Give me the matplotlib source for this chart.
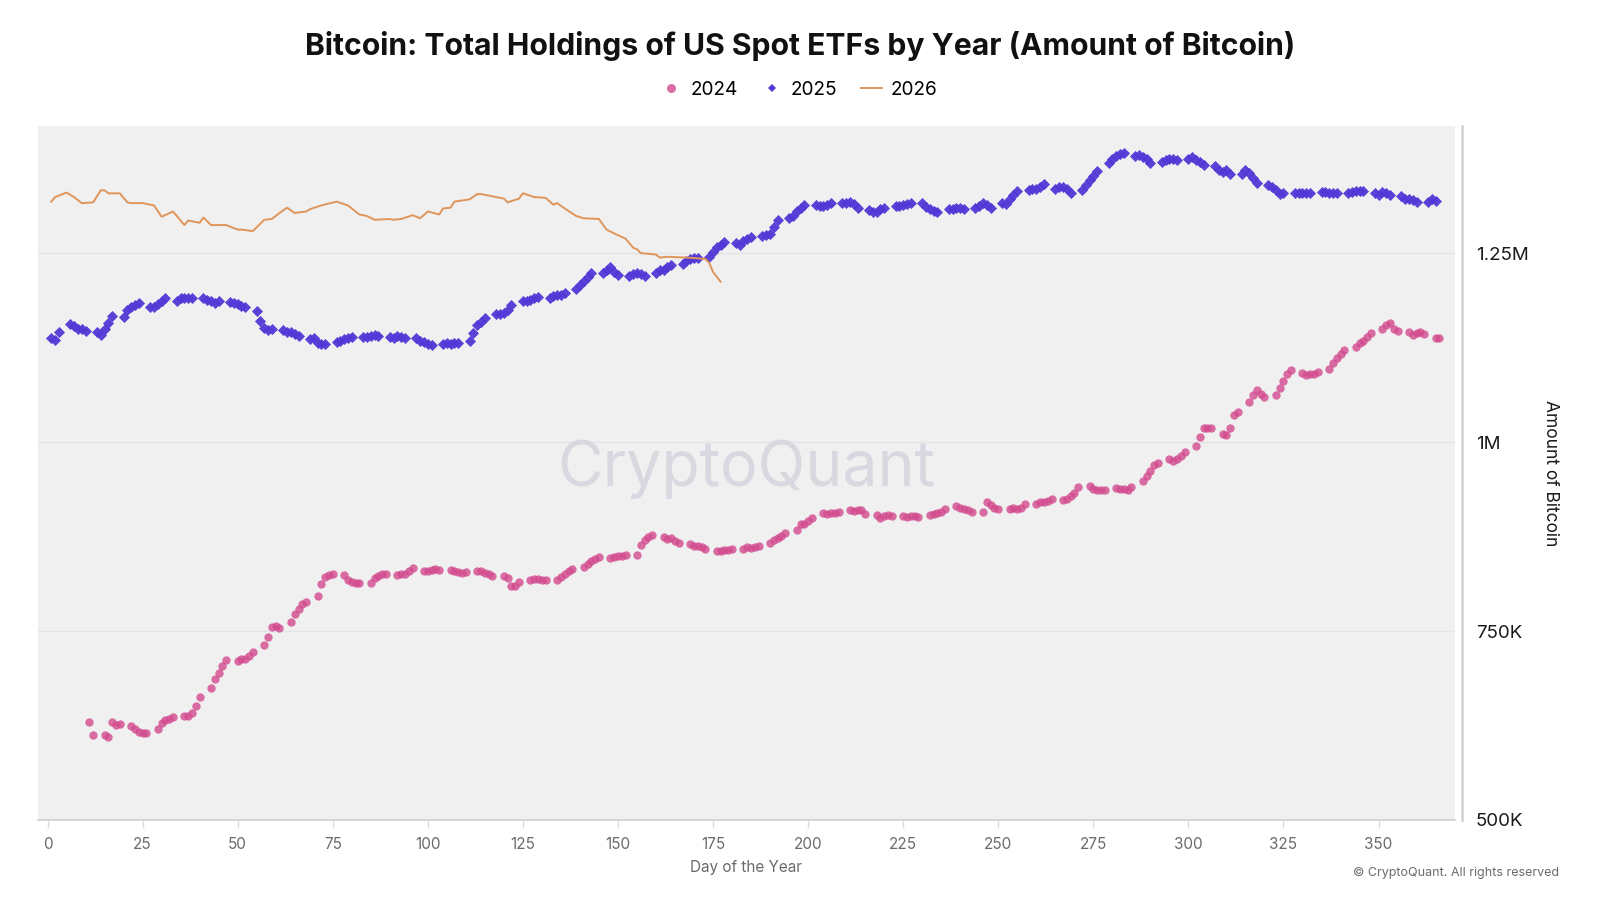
import matplotlib
matplotlib.use("Agg")
import matplotlib.pyplot as plt
from matplotlib.lines import Line2D

# ---------------- data (values in thousands of BTC) ----------------
days_2024 = [11, 12, 15, 16, 17, 18, 19,
             22, 23, 24, 25, 26, 29, 30, 31, 32, 33, 36, 37, 38, 39, 40,
             43, 44, 45, 46, 47, 50, 51, 52, 53, 54, 57, 58, 59, 60, 61,
             64, 65, 66, 67, 68, 71, 72, 73, 74, 75, 78, 79, 80, 81, 82,
             85, 86, 87, 88, 89, 92, 93, 94, 95, 96, 99, 100, 101, 102, 103,
             106, 107, 108, 109, 110, 113, 114, 115, 116, 117, 120, 121, 122, 123, 124,
             127, 128, 129, 130, 131, 134, 135, 136, 137, 138, 141, 142, 143, 144, 145,
             148, 149, 150, 151, 152, 155, 156, 157, 158, 159, 162, 163, 164, 165, 166,
             169, 170, 171, 172, 173, 176, 177, 178, 179, 180, 183, 184, 185, 186, 187,
             190, 191, 192, 193, 194, 197, 198, 199, 200, 201, 204, 205, 206, 207, 208,
             211, 212, 213, 214, 215, 218, 219, 220, 221, 222, 225, 226, 227, 228, 229,
             232, 233, 234, 235, 236, 239, 240, 241, 242, 243, 246, 247, 248, 249, 250,
             253, 254, 255, 256, 257, 260, 261, 262, 263, 264, 267, 268, 269, 270, 271,
             274, 275, 276, 277, 278, 281, 282, 283, 284, 285, 288, 289, 290, 291, 292,
             295, 296, 297, 298, 299, 302, 303, 304, 305, 306, 309, 310, 311, 312, 313,
             316, 317, 318, 319, 320, 323, 324, 325, 326, 327, 330, 331, 332, 333, 334,
             337, 338, 339, 340, 341, 344, 345, 346, 347, 348, 351, 352, 353, 354, 355,
             358, 359, 360, 361, 362, 365, 366]
holdings_2024 = [630, 613, 613, 610, 629, 626, 627,
                 624, 620, 617, 615, 615, 621, 628, 632, 634, 636, 637, 638, 641, 651, 663,
                 674, 687, 694, 704, 711, 710, 713, 713, 717, 722, 732, 742, 755, 756, 754,
                 762, 773, 779, 786, 789, 796, 812, 822, 824, 826, 824, 818, 815, 813, 813,
                 813, 820, 823, 825, 825, 824, 825, 826, 829, 833, 830, 829, 831, 832, 831,
                 831, 829, 828, 827, 828, 829, 830, 827, 825, 823, 823, 820, 810, 810, 815,
                 818, 819, 819, 818, 817, 818, 822, 826, 830, 832, 835, 839, 842, 845, 848,
                 847, 848, 849, 849, 850, 851, 864, 870, 874, 877, 875, 872, 873, 869, 866,
                 865, 863, 862, 861, 858, 856, 856, 857, 857, 858, 859, 861, 860, 861, 862,
                 867, 870, 873, 876, 880, 884, 891, 892, 895, 900, 906, 905, 906, 906, 908,
                 910, 909, 910, 910, 905, 903, 900, 902, 903, 902, 902, 901, 902, 902, 901,
                 904, 905, 906, 908, 912, 915, 913, 912, 910, 907, 908, 920, 917, 913, 911,
                 912, 913, 912, 913, 918, 918, 920, 920, 922, 924, 923, 925, 928, 933, 941,
                 942, 938, 937, 936, 936, 939, 938, 938, 936, 941, 949, 955, 962, 969, 972,
                 977, 975, 978, 981, 987, 995, 1007, 1019, 1019, 1019, 1011, 1009, 1018, 1036, 1040,
                 1053, 1062, 1069, 1064, 1059, 1062, 1071, 1081, 1090, 1095, 1091, 1089, 1090, 1090, 1093,
                 1097, 1104, 1111, 1117, 1122, 1126, 1131, 1133, 1139, 1144, 1149, 1155, 1158, 1150, 1147,
                 1145, 1142, 1144, 1146, 1143, 1138, 1138]

days_2025 = [1, 2, 3, 6, 7, 8, 9, 10, 13, 14, 15, 16, 17, 20, 21, 22, 23, 24,
             27, 28, 29, 30, 31, 34, 35, 36, 37, 38, 41, 42, 43, 44, 45,
             48, 49, 50, 51, 52, 55, 56, 57, 58, 59, 62, 63, 64, 65, 66,
             69, 70, 71, 72, 73, 76, 77, 78, 79, 80, 83, 84, 85, 86, 87,
             90, 91, 92, 93, 94, 97, 98, 99, 100, 101, 104, 105, 106, 107, 108,
             111, 112, 113, 114, 115, 118, 119, 120, 121, 122, 125, 126, 127, 128, 129,
             132, 133, 134, 135, 136, 139, 140, 141, 142, 143, 146, 147, 148, 149, 150,
             153, 154, 155, 156, 157, 160, 161, 162, 163, 164, 167, 168, 169, 170, 171,
             174, 175, 176, 177, 178, 181, 182, 183, 184, 185, 188, 189, 190, 191, 192,
             195, 196, 197, 198, 199, 202, 203, 204, 205, 206, 209, 210, 211, 212, 213,
             216, 217, 218, 219, 220, 223, 224, 225, 226, 227, 230, 231, 232, 233, 234,
             237, 238, 239, 240, 241, 244, 245, 246, 247, 248, 251, 252, 253, 254, 255,
             258, 259, 260, 261, 262, 265, 266, 267, 268, 269, 272, 273, 274, 275, 276,
             279, 280, 281, 282, 283, 286, 287, 288, 289, 290, 293, 294, 295, 296, 297,
             300, 301, 302, 303, 304, 307, 308, 309, 310, 311, 314, 315, 316, 317, 318,
             321, 322, 323, 324, 325, 328, 329, 330, 331, 332, 335, 336, 337, 338, 339,
             342, 343, 344, 345, 346, 349, 350, 351, 352, 353, 356, 357, 358, 359, 360,
             363, 364, 365]
holdings_2025 = [1137, 1135, 1145, 1156, 1153, 1149, 1149, 1147, 1145, 1142, 1150, 1157, 1167,
                 1166, 1175, 1178, 1181, 1184,
                 1179, 1179, 1183, 1187, 1190, 1186, 1190, 1191, 1190, 1191, 1190, 1188, 1186, 1184, 1186,
                 1185, 1184, 1183, 1180, 1179, 1173, 1160, 1151, 1148, 1149, 1148, 1146, 1145, 1143, 1140,
                 1136, 1137, 1131, 1130, 1130, 1132, 1134, 1136, 1137, 1139, 1139, 1139, 1140, 1141, 1140,
                 1139, 1138, 1140, 1139, 1138, 1137, 1134, 1132, 1130, 1129, 1130, 1131, 1130, 1131, 1131,
                 1134, 1144, 1155, 1159, 1164, 1169, 1170, 1171, 1175, 1181, 1187, 1186, 1188, 1190, 1192,
                 1191, 1193, 1194, 1195, 1197, 1203, 1208, 1213, 1218, 1223, 1223, 1228, 1231, 1225, 1221,
                 1219, 1222, 1224, 1222, 1219, 1223, 1228, 1228, 1231, 1234, 1236, 1239, 1242, 1244, 1243,
                 1245, 1252, 1258, 1261, 1264, 1263, 1261, 1266, 1269, 1271, 1272, 1274, 1275, 1285, 1294,
                 1296, 1299, 1305, 1310, 1313, 1313, 1312, 1312, 1313, 1316, 1316, 1316, 1318, 1315, 1309,
                 1307, 1304, 1304, 1308, 1310, 1312, 1312, 1313, 1315, 1316, 1316, 1311, 1308, 1306, 1304,
                 1308, 1308, 1309, 1310, 1308, 1309, 1312, 1316, 1313, 1310, 1316, 1315, 1321, 1327, 1332,
                 1334, 1335, 1335, 1338, 1341, 1335, 1337, 1338, 1335, 1330, 1334, 1340, 1346, 1352, 1359,
                 1369, 1375, 1379, 1381, 1382, 1379, 1380, 1377, 1374, 1369, 1370, 1373, 1374, 1374, 1373,
                 1375, 1377, 1373, 1370, 1366, 1365, 1360, 1357, 1360, 1355, 1355, 1360, 1356, 1349, 1343,
                 1340, 1337, 1334, 1328, 1330, 1329, 1329, 1330, 1330, 1330, 1331, 1331, 1330, 1329, 1330,
                 1329, 1331, 1332, 1332, 1332, 1329, 1327, 1331, 1329, 1327, 1326, 1322, 1321, 1320, 1318,
                 1318, 1322, 1319]

days_2026 = [1, 2, 5, 7, 9, 12, 14, 15, 16, 19, 21, 22, 25, 28, 30, 33, 36, 37, 40, 41,
             43, 47, 50, 51, 54, 57, 59, 61, 63, 65, 68, 69, 72, 76, 79, 82, 84, 86, 90, 91,
             93, 96, 98, 100, 103, 104, 106, 107, 111, 113, 114, 120, 121, 124, 125, 128, 131,
             133, 134, 136, 139, 141, 145, 147, 149, 152, 154, 155, 156, 160, 161, 163, 168,
             171, 173, 174, 175, 177]
holdings_2026 = [1318, 1324, 1330, 1324, 1316, 1317, 1333, 1333, 1329, 1329, 1317, 1316, 1316,
                 1313, 1298, 1305, 1287, 1293, 1290, 1297, 1287, 1287, 1281, 1281, 1279, 1294,
                 1295, 1303, 1310, 1303, 1305, 1308, 1313, 1318, 1313, 1301, 1299, 1294, 1295,
                 1294, 1295, 1300, 1296, 1305, 1301, 1309, 1310, 1318, 1321, 1328, 1328, 1322,
                 1317, 1322, 1329, 1324, 1323, 1314, 1316, 1309, 1299, 1296, 1295, 1281, 1276,
                 1269, 1257, 1255, 1250, 1248, 1244, 1245, 1244, 1243, 1242, 1237, 1225, 1212]

year_labels = ["2024", "2025", "2026"]
x_ticks = [0, 25, 50, 75, 100, 125, 150, 175, 200, 225, 250, 275, 300, 325, 350]
y_ticks = [500000, 750000, 1000000, 1250000]
y_tick_labels = ["500K", "750K", "1M", "1.25M"]

title = "Bitcoin: Total Holdings of US Spot ETFs by Year (Amount of Bitcoin)"

c2024 = "#d24a8e"
c2025 = "#5238d6"
c2026 = "#e0955a"

# ---------------- figure ----------------
plt.rcParams['font.family'] = ['Inter', 'DejaVu Sans']
fig = plt.figure(figsize=(16, 9), dpi=100)
ax = fig.add_axes([38/1600, 1 - 820/900, (1455-38)/1600, (820-125.5)/900])
ax.set_facecolor("#f0f0f0")

ax.scatter(days_2024, [v * 1000 for v in holdings_2024], s=36, marker='o',
           color=c2024, alpha=0.8, linewidths=0, zorder=3)
ax.scatter(days_2025, [v * 1000 for v in holdings_2025], s=32, marker='D',
           color=c2025, alpha=0.95, linewidths=0, zorder=3)
ax.plot(days_2026, [v * 1000 for v in holdings_2026], color=c2026, lw=1.4, zorder=4)

ax.set_xlim(-2.5, 370.1)
ax.set_ylim(500000, 1418700)

# grid
ax.set_yticks(y_ticks)
ax.yaxis.grid(True, color="#e4e4e4", lw=1)
ax.set_axisbelow(True)

# axes styling
for s in ["top", "left"]:
    ax.spines[s].set_visible(False)
ax.spines["bottom"].set_color("#cfcfcf")
ax.spines["bottom"].set_linewidth(1.2)
ax.spines["right"].set_position(("outward", 5))
ax.spines["right"].set_color("#d0d0d0")
ax.spines["right"].set_linewidth(1.8)

ax.yaxis.tick_right()
ax.yaxis.set_label_position("right")
ax.set_yticklabels(y_tick_labels)
ax.tick_params(axis="y", length=0, pad=10, labelsize=13.5, labelcolor="#1a1a1a")
ax.set_ylabel("Amount of Bitcoin", rotation=270, fontsize=12.5, color="#1a1a1a", labelpad=22)

ax.set_xticks(x_ticks)
ax.tick_params(axis="x", length=6, width=1, color="#dcdcdc", pad=6,
               labelsize=11, labelcolor="#6b6b6b")
ax.set_xlabel("Day of the Year", fontsize=11, color="#6b6b6b", labelpad=6)

# watermark
ax.text(0.5, 0.505, "CryptoQuant", transform=ax.transAxes, ha="center", va="center",
        fontsize=45, color="#d6d6df", alpha=0.9, zorder=1)

# title
fig.text(0.5, 1 - 46/900, title, ha="center", va="center", fontsize=21.7,
         fontweight="bold", color="#111111")

# legend
handles = [
    Line2D([], [], marker='o', ls='none', color=c2024, alpha=0.8, markersize=6.5, markeredgewidth=0),
    Line2D([], [], marker='D', ls='none', color=c2025, markersize=4.5, markeredgewidth=0),
    Line2D([], [], color=c2026, lw=1.4),
]
fig.legend(handles, year_labels, loc="center", bbox_to_anchor=(0.4995, 1 - 90/900), ncol=3,
           frameon=False, fontsize=13.7, handlelength=1.1, columnspacing=1.25, handletextpad=0.45)

fig.text(1559/1600, 1 - 873/900, "© CryptoQuant. All rights reserved", ha="right", va="center",
         fontsize=9, color="#6b6b6b")

fig.savefig("out.png", dpi=100)
